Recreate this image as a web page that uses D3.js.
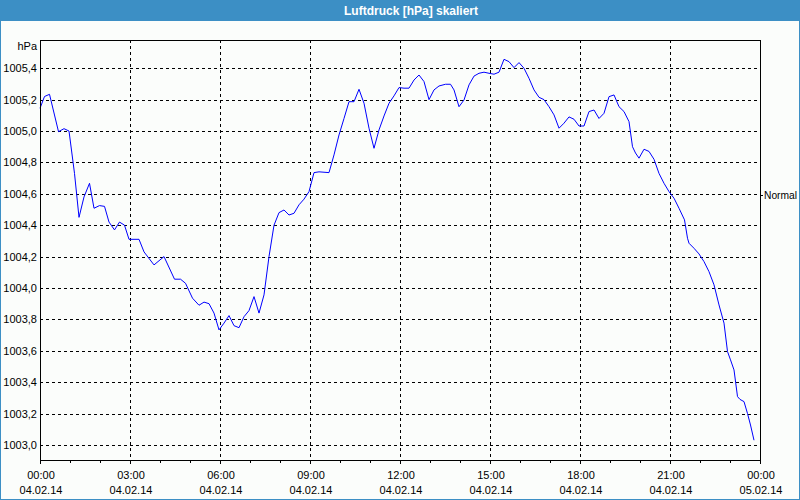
<!DOCTYPE html>
<html>
<head>
<meta charset="utf-8">
<script src="https://cdn.jsdelivr.net/npm/d3@7"></script>
<style>
  html, body { margin: 0; padding: 0; background: #fbfdfb; }
  svg { display: block; }
  text { font-family: "Liberation Sans", Arial, sans-serif; }
</style>
</head>
<body>
<svg id="chart" width="800" height="500"></svg>
<script>
// ---- data ----
const title = "Luftdruck [hPa] skaliert";
const unitLabel = "hPa";
const normalLabel = "Normal";
const normalValue = 1004.59;
// minutes after 04.02.14 00:00
const minutes = [0,9,19,37,48,58,69,78,88,99,108,119,129,138,149,159,169,178,198,208,228,248,269,281,291,305,
  318,328,338,348,358,368,378,388,398,408,418,428,438,448,458,468,478,488,498,508,518,528,538,548,558,578,588,598,
  608,618,628,638,648,658,668,678,688,698,708,718,728,738,748,758,768,778,788,798,811,821,828,838,848,858,868,878,
  888,898,908,918,928,938,948,958,968,978,988,998,1008,1018,1028,1038,1048,1058,1068,1078,1088,1098,1108,1118,1128,
  1138,1148,1158,1168,1178,1185,1191,1198,1208,1218,1228,1238,1248,1258,1268,1278,1289,1295,1298,1308,1318,1328,
  1338,1348,1358,1368,1375,1381,1388,1395,1400,1408,1415,1421,1428];
const pressure = [1005.145,1005.22,1005.234,1004.996,1005.015,1005.0,1004.73,1004.45,1004.58,1004.667,1004.508,
  1004.525,1004.52,1004.42,1004.37,1004.42,1004.40,1004.31,1004.31,1004.23,1004.147,1004.2,1004.056,1004.056,1004.03,
  1003.935,1003.89,1003.91,1003.90,1003.84,1003.733,1003.776,1003.824,1003.76,1003.747,1003.817,1003.856,1003.945,
  1003.84,1003.956,1004.2,1004.40,1004.48,1004.497,1004.465,1004.476,1004.53,1004.566,1004.614,1004.735,1004.74,
  1004.735,1004.848,1004.975,1005.08,1005.187,1005.187,1005.266,1005.177,1005.018,1004.89,1005.007,1005.096,
  1005.177,1005.224,1005.277,1005.273,1005.273,1005.325,1005.357,1005.315,1005.2,1005.262,1005.287,1005.298,
  1005.298,1005.262,1005.155,1005.198,1005.294,1005.35,1005.368,1005.375,1005.368,1005.362,1005.375,1005.457,
  1005.442,1005.404,1005.436,1005.40,1005.336,1005.262,1005.215,1005.2,1005.155,1005.103,1005.018,1005.05,1005.09,
  1005.075,1005.032,1005.032,1005.124,1005.134,1005.08,1005.113,1005.219,1005.23,1005.155,1005.124,1005.06,1004.90,
  1004.86,1004.827,1004.884,1004.87,1004.82,1004.73,1004.667,1004.614,1004.572,1004.508,1004.434,1004.317,1004.285,
  1004.253,1004.217,1004.168,1004.104,1004.02,1003.892,1003.776,1003.595,1003.542,1003.478,1003.308,1003.29,
  1003.276,1003.2,1003.127,1003.03];
const yTicks = [1003.0,1003.2,1003.4,1003.6,1003.8,1004.0,1004.2,1004.4,1004.6,1004.8,1005.0,1005.2,1005.4];
const xTickHours = [0,3,6,9,12,15,18,21,24];
const xTickTimes = ["00:00","03:00","06:00","09:00","12:00","15:00","18:00","21:00","00:00"];
const xTickDates = ["04.02.14","04.02.14","04.02.14","04.02.14","04.02.14","04.02.14","04.02.14","04.02.14","05.02.14"];

// ---- layout ----
const W = 800, H = 500;
const plot = { left: 40, right: 760, top: 40, bottom: 460 };
const svg = d3.select("#chart");

// frame and title bar
svg.append("rect").attr("x", 0.5).attr("y", 0.5).attr("width", W - 1).attr("height", H - 1)
  .attr("fill", "#fbfdfb").attr("stroke", "#3c8fc5").attr("stroke-width", 1);
svg.append("rect").attr("x", 0).attr("y", 0).attr("width", W).attr("height", 21).attr("fill", "#3c8fc5");
svg.append("text").attr("x", 411).attr("y", 14.5).attr("text-anchor", "middle")
  .attr("fill", "#ffffff").attr("font-weight", "bold").attr("font-size", "12px").text(title);

const x = d3.scaleLinear().domain([0, 24 * 60]).range([plot.left, plot.right]);
const y = d3.scaleLinear().domain([1002.904, 1005.580]).range([plot.bottom, plot.top]);

// grid
const grid = svg.append("g");
grid.selectAll("line.h").data(yTicks).join("line")
  .attr("x1", plot.left).attr("x2", plot.right)
  .attr("y1", d => Math.round(y(d)) + 0.5).attr("y2", d => Math.round(y(d)) + 0.5)
  .attr("stroke", "#000").attr("stroke-dasharray", "3,3").attr("shape-rendering", "crispEdges");
grid.selectAll("line.v").data(xTickHours.slice(1, -1)).join("line")
  .attr("x1", d => Math.round(x(d * 60)) + 0.5).attr("x2", d => Math.round(x(d * 60)) + 0.5)
  .attr("y1", plot.top).attr("y2", plot.bottom)
  .attr("stroke", "#000").attr("stroke-dasharray", "3,3").attr("shape-rendering", "crispEdges");

// data line
const pts = minutes.map((m, i) => [m, pressure[i]]);
svg.append("path").datum(pts)
  .attr("d", d3.line().x(d => x(d[0])).y(d => y(d[1])))
  .attr("fill", "none").attr("stroke", "#0000ff").attr("stroke-width", 1);

// plot border
svg.append("rect").attr("x", plot.left + 0.5).attr("y", plot.top + 0.5)
  .attr("width", plot.right - plot.left).attr("height", plot.bottom - plot.top)
  .attr("fill", "none").attr("stroke", "#000").attr("shape-rendering", "crispEdges");

// y axis labels
svg.selectAll("text.yl").data(yTicks).join("text")
  .attr("x", 37).attr("y", d => y(d) + 4).attr("text-anchor", "end")
  .attr("font-size", "11px").attr("fill", "#000")
  .text(d => d3.format(".1f")(d).replace(".", ","));
svg.append("text").attr("x", 37).attr("y", 50).attr("text-anchor", "end")
  .attr("font-size", "11px").attr("fill", "#000").text(unitLabel);

// x axis ticks
const hours = d3.range(0, 25);
svg.selectAll("line.xt").data(hours).join("line")
  .attr("x1", d => Math.round(x(d * 60)) + 0.5).attr("x2", d => Math.round(x(d * 60)) + 0.5)
  .attr("y1", plot.bottom).attr("y2", d => plot.bottom + (d % 3 === 0 ? 4 : 3))
  .attr("stroke", "#000").attr("shape-rendering", "crispEdges");
svg.selectAll("text.xt1").data(xTickHours).join("text")
  .attr("x", d => x(d * 60) + 1).attr("y", 479).attr("text-anchor", "middle")
  .attr("font-size", "11px").attr("fill", "#000").text((d, i) => xTickTimes[i]);
svg.selectAll("text.xt2").data(xTickHours).join("text")
  .attr("x", d => x(d * 60) + 1).attr("y", 494).attr("text-anchor", "middle")
  .attr("font-size", "11px").attr("fill", "#000").text((d, i) => xTickDates[i]);

// Normal marker on the right
svg.append("line").attr("x1", plot.right).attr("x2", plot.right + 3)
  .attr("y1", Math.round(y(normalValue)) + 0.5).attr("y2", Math.round(y(normalValue)) + 0.5)
  .attr("stroke", "#000").attr("shape-rendering", "crispEdges");
svg.append("text").attr("x", plot.right + 4).attr("y", y(normalValue) + 4)
  .attr("font-size", "11px").attr("fill", "#000")
  .attr("textLength", 33).attr("lengthAdjust", "spacingAndGlyphs").text(normalLabel);
</script>
</body>
</html>
